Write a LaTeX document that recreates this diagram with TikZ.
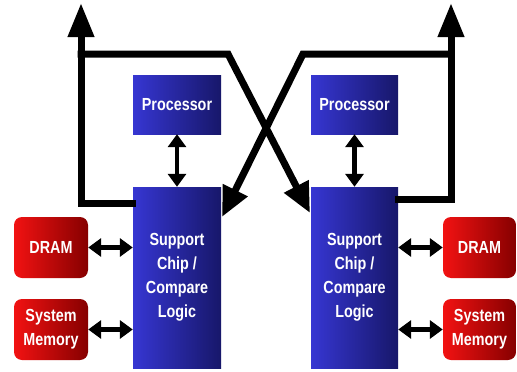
\documentclass[tikz,border=0pt]{standalone}
\usepackage{fontspec}
\setmainfont{Liberation Sans}
\newfontfamily\labelfont[FakeStretch=0.82]{Liberation Sans}
\usetikzlibrary{arrows.meta}
\definecolor{chiplight}{HTML}{3636D2}
\definecolor{chipdark}{HTML}{17176A}
\definecolor{memlight}{HTML}{F21212}
\definecolor{memdark}{HTML}{860000}
\tikzset{
  chipbox/.style={inner sep=0pt, left color=chiplight, right color=chipdark,
    text=white, align=center, font=\labelfont\bfseries\fontsize{17.5}{24}\selectfont},
  membox/.style={inner sep=0pt, rounded corners=8pt, left color=memlight, right color=memdark,
    text=white, align=center, minimum width=74pt, minimum height=61pt,
    font=\labelfont\bfseries\fontsize{17.5}{24}\selectfont},
  bus/.style={line width=7pt, line join=miter, line cap=rect},
  bigtip/.style={-{Triangle[width=25pt,length=34pt]}},
  difftip/.style={-{Triangle[width=26pt,length=30pt]}},
  link/.style={line width=4.5pt, {Triangle[width=18pt,length=13pt]}-{Triangle[width=18pt,length=13pt]}}
}
\begin{document}
\begin{tikzpicture}[x=1pt,y=-1pt]
\useasboundingbox[fill=white] (0,0) rectangle (517,372);

% processors and support chips
\node[chipbox, minimum width=88pt, minimum height=59pt] (lproc) at (177,104.5) {Processor};
\node[chipbox, minimum width=87pt, minimum height=59pt] (rproc) at (354.5,104.5) {Processor};
\node[chipbox, minimum width=88pt, minimum height=181pt] (lchip) at (177,277.5) {Support\\Chip /\\Compare\\Logic};
\node[chipbox, minimum width=87pt, minimum height=181pt] (rchip) at (354.5,277.5) {Support\\Chip /\\Compare\\Logic};

% memories
\node[membox] (ldram) at (51,247.5) {DRAM};
\node[membox] (lmem) at (51,329.5) {System\\Memory};
\node[membox, minimum width=73pt] (rdram) at (479.5,247.5) {DRAM};
\node[membox, minimum width=73pt] (rmem) at (479.5,329.5) {System\\Memory};

% loop bend points
\coordinate (lbend) at (81,203);
\coordinate (ljoin) at (81,54);
\coordinate (lout) at (81,3);
\coordinate (lkink) at (228,54);
\coordinate (rtip) at (310,213);
\coordinate (rbend) at (451,199);
\coordinate (rjoin) at (451,54);
\coordinate (rout) at (451,3);
\coordinate (rkink) at (303,54);
\coordinate (ltip) at (222,217);

% outputs going up
\draw[bus, bigtip] (lchip.west |- lbend) -- (lbend) -- (lout);
\draw[bus, bigtip] (rchip.east |- rbend) -- (rbend) -- (rout);

% cross-compare paths
\draw[bus, difftip] (ljoin) -- (lkink) -- (rtip);
\draw[bus, difftip] (rjoin) -- (rkink) -- (ltip);

% local links
\draw[link] (lproc.south) -- (lchip.north);
\draw[link] (rproc.south) -- (rchip.north);
\draw[link] (ldram.east) -- (lchip.west |- ldram.east);
\draw[link] (lmem.east) -- (lchip.west |- lmem.east);
\draw[link] (rdram.west) -- (rchip.east |- rdram.west);
\draw[link] (rmem.west) -- (rchip.east |- rmem.west);
\end{tikzpicture}
\end{document}
